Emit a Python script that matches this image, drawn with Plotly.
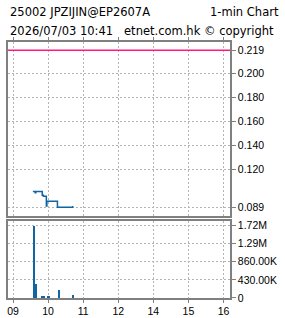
import plotly.graph_objects as go

# Price (1-min, step line)
price_times = ["09:34", "09:38", "09:39", "09:50", "09:52", "09:57", "09:58", "10:16", "10:41", "10:42"]
price_values = [0.102, 0.101, 0.102, 0.099, 0.098, 0.090, 0.094, 0.089, 0.089, 0.090]

# Reference level (magenta line)
ref_level = 0.219

# Volume bars
vol_times = ["09:35", "09:36", "09:38", "09:39", "09:50", "09:53", "09:59", "10:01", "10:18", "10:42"]
vol_values = [215000, 1720000, 118000, 350000, 55000, 55000, 55000, 55000, 190000, 75000]

# Axis ticks
x_tick_hours = ["09:00", "10:00", "11:00", "12:00", "14:00", "15:00", "16:00"]
x_tick_labels = ["09", "10", "11", "12", "14", "15", "16"]
price_ticks = [0.089, 0.120, 0.140, 0.160, 0.180, 0.200, 0.219]
vol_ticks = [0, 430000, 860000, 1290000, 1720000]
vol_tick_labels = ["0", "430.00K", "860.00K", "1.29M", "1.72M"]


def trading_hours(t):
    """Clock time -> position on a trading-time axis (lunch hour 12-13 collapsed)."""
    h, m = t.split(":")
    v = int(h) + int(m) / 60.0
    return v - 1.0 if v >= 13 else v


BLUE = "#0f66a3"
GRID = "#b4b4b4"
BORDER = "#808080"
TICKFONT = dict(family="Liberation Sans, Arial", size=10.5, color="#000")

fig = go.Figure()
fig.add_trace(go.Scatter(
    x=[trading_hours(t) for t in price_times], y=price_values, mode="lines",
    line=dict(color=BLUE, width=1.5, shape="hv"), xaxis="x", yaxis="y", showlegend=False))
fig.add_trace(go.Scatter(
    x=[8.5, 15.5], y=[ref_level, ref_level], mode="lines",
    line=dict(color="#ff1a80", width=1.5), xaxis="x", yaxis="y", showlegend=False))
fig.add_trace(go.Bar(
    x=[trading_hours(t) for t in vol_times], y=vol_values, marker=dict(color=BLUE, line=dict(width=0)),
    width=1.4 / 60, xaxis="x2", yaxis="y2", showlegend=False))

xr = [9 - 5 / 35.0, 15 + 6.5 / 35.0]
common_x = dict(
    range=xr, tickvals=[trading_hours(t) for t in x_tick_hours], ticktext=x_tick_labels,
    showgrid=True, gridcolor=GRID, gridwidth=1, griddash="2px,2px",
    showline=True, linecolor=BORDER, linewidth=1.5, mirror=True,
    ticks="outside", ticklen=3, tickcolor=BORDER, zeroline=False,
    tickfont=TICKFONT, fixedrange=True)

common_y = dict(
    side="right", showgrid=True, gridcolor=GRID, gridwidth=1, griddash="2px,2px",
    showline=True, linecolor=BORDER, linewidth=1.5, mirror=True,
    ticks="outside", ticklen=4, tickcolor=BORDER, zeroline=False,
    tickfont=TICKFONT, fixedrange=True)

fig.update_layout(
    width=285, height=318, margin=dict(l=8, r=55, t=42, b=20, autoexpand=False),
    paper_bgcolor="white", plot_bgcolor="white", bargap=0,
    xaxis=dict(common_x, anchor="y", side="top", showticklabels=False),
    xaxis2=dict(common_x, anchor="y2"),
    yaxis=dict(common_y, domain=[0.322, 1.0], range=[0.0821, 0.2258],
               tickvals=price_ticks, ticktext=[f"{v:.3f}" for v in price_ticks], anchor="x"),
    yaxis2=dict(common_y, domain=[0.0, 0.302], range=[0, 1832000],
                tickvals=vol_ticks, ticktext=vol_tick_labels, anchor="x2"),
)

TITLEFONT = dict(family="DejaVu Sans", size=11.5, color="#000")
fig.add_annotation(text="25002 JPZIJIN@EP2607A", xref="paper", yref="paper",
                   x=0.0, y=1.119, xanchor="left", yanchor="middle", showarrow=False, font=TITLEFONT)
fig.add_annotation(text="1-min Chart", xref="paper", yref="paper",
                   x=1.2297, y=1.119, xanchor="right", yanchor="middle", showarrow=False, font=TITLEFONT)
fig.add_annotation(text="2026/07/03 10:41&nbsp;&nbsp;&nbsp;etnet.com.hk © copyright", xref="paper", yref="paper",
                   x=0.0, y=1.043, xanchor="left", yanchor="middle", showarrow=False, font=TITLEFONT)

fig.write_html("out.html", config=dict(displayModeBar=False))
